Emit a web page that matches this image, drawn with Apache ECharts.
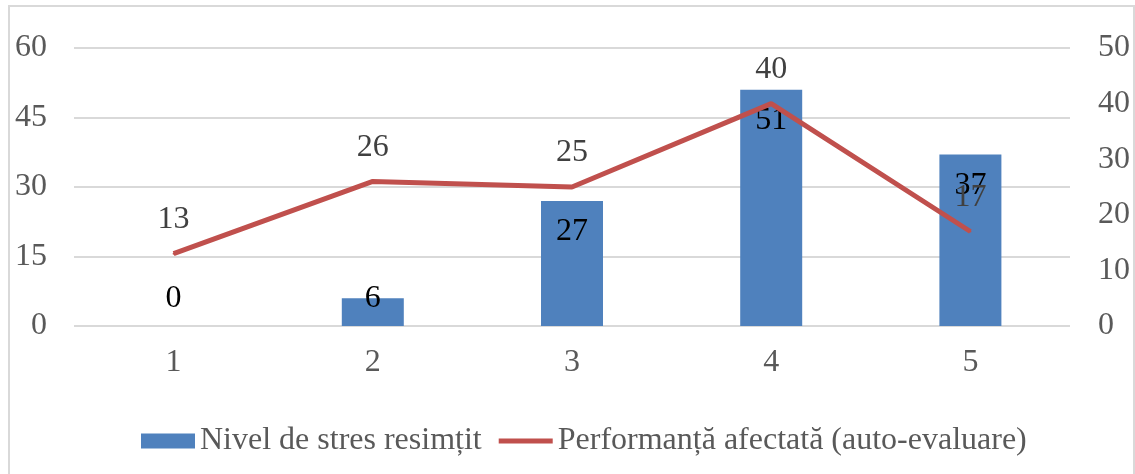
<!DOCTYPE html>
<html>
<head>
<meta charset="utf-8">
<script src="https://cdn.jsdelivr.net/npm/echarts@6/dist/echarts.min.js"></script>
<style>
html,body{margin:0;padding:0;background:#fff;}
#chart{width:1135px;height:474px;}
</style>
</head>
<body>
<div id="chart"></div>
<script>
const categories = ['1', '2', '3', '4', '5'];
const stressValues = [0, 6, 27, 51, 37];
const performanceValues = [13, 26, 25, 40, 17];
const leftTicks = { min: 0, max: 60, interval: 15 };
const rightTicks = { min: 0, max: 50, interval: 10 };
const seriesNames = ['Nivel de stres resimțit', 'Performanță afectată (auto-evaluare)'];

const FONT = 'Liberation Serif';
const FS = 32;

const chart = echarts.init(document.getElementById('chart'), null, { renderer: 'canvas' });

const barData = stressValues.map(v => v < 10
  ? { value: v, label: { position: 'insideBottom', distance: 11 } }
  : v);

chart.setOption({
  animation: false,
  backgroundColor: '#ffffff',
  graphic: [{
    type: 'rect',
    shape: { x: 9, y: 6, width: 1125, height: 520 },
    style: { fill: 'none', stroke: '#d9d9d9', lineWidth: 2 },
    silent: true
  }],
  grid: { left: 74, right: 65, top: 48, bottom: 148, containLabel: false },
  legend: {
    left: 136,
    top: 420,
    itemWidth: 54,
    itemHeight: 15,
    itemGap: 17,
    textStyle: { fontFamily: FONT, fontSize: FS, color: '#595959' },
    data: [
      { name: seriesNames[0], icon: 'rect' },
      { name: seriesNames[1], icon: 'path://M0,0 L0,0 M0,5 L54,5 L54,10 L0,10 Z M0,15 L0,15' }
    ]
  },
  xAxis: {
    type: 'category',
    data: categories,
    axisLine: { show: false },
    axisTick: { show: false },
    axisLabel: { margin: 21, fontFamily: FONT, fontSize: FS, color: '#595959' }
  },
  yAxis: [
    {
      type: 'value',
      min: leftTicks.min, max: leftTicks.max, interval: leftTicks.interval,
      axisLine: { show: false },
      axisTick: { show: false },
      axisLabel: { margin: 27, fontFamily: FONT, fontSize: FS, color: '#595959' },
      splitLine: { lineStyle: { color: '#d9d9d9', width: 2 } }
    },
    {
      type: 'value',
      min: rightTicks.min, max: rightTicks.max, interval: rightTicks.interval,
      axisLine: { show: false },
      axisTick: { show: false },
      axisLabel: { margin: 28, fontFamily: FONT, fontSize: FS, color: '#595959' },
      splitLine: { show: false }
    }
  ],
  series: [
    {
      name: seriesNames[0],
      type: 'bar',
      yAxisIndex: 0,
      data: barData,
      barWidth: 62,
      itemStyle: { color: '#4F81BD' },
      label: {
        show: true,
        position: 'insideTop',
        distance: 15,
        fontFamily: FONT,
        fontSize: FS,
        color: '#000000'
      },
      z: 2
    },
    {
      name: seriesNames[1],
      type: 'line',
      yAxisIndex: 1,
      data: performanceValues,
      symbol: 'circle',
      symbolSize: 2,
      showSymbol: true,
      lineStyle: { color: '#C0504D', width: 5 },
      itemStyle: { color: '#C0504D' },
      label: {
        show: true,
        position: 'top',
        distance: 17,
        fontFamily: FONT,
        fontSize: FS,
        color: '#404040'
      },
      z: 3
    }
  ]
});
</script>
</body>
</html>
